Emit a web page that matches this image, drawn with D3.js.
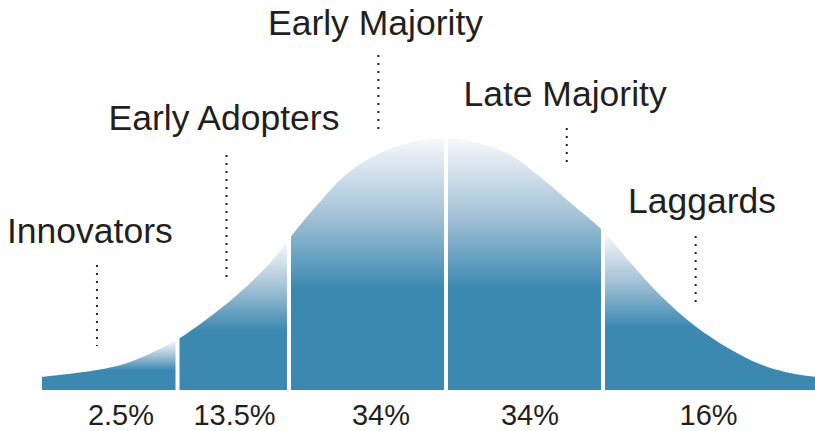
<!DOCTYPE html>
<html>
<head>
<meta charset="utf-8">
<script src="https://cdn.jsdelivr.net/npm/d3@7"></script>
<style>
  html, body { margin: 0; padding: 0; background: #ffffff; }
  svg { display: block; }
  text { font-family: "Liberation Sans", Arial, Helvetica, sans-serif; fill: #231f20; }
</style>
</head>
<body>
<svg id="chart" width="815" height="431"></svg>
<script>
// ---- data ----
const categories = ["Innovators", "Early Adopters", "Early Majority", "Late Majority", "Laggards"];
const shares = [2.5, 13.5, 34, 34, 16];
// segment boundaries along the adoption axis (standard deviations from the mean)
const boundaries = [-1.71, -1.0, 0, 1.0];
// bell curve samples: position (sd units) and relative height (peak = 1)
const curveX = [-2.573, -2.223, -2.013, -1.739, -1.548, -1.331, -1.121, -1.0, -0.847, -0.631, -0.420, -0.210, 0,
                0.172, 0.389, 0.599, 0.809, 1.0, 1.159, 1.376, 1.586, 1.796, 2.013, 2.223, 2.350];
const curveY = [0.052, 0.079, 0.111, 0.190, 0.270, 0.377, 0.504, 0.599, 0.715, 0.858, 0.940, 0.984, 1.0,
                0.984, 0.940, 0.845, 0.734, 0.631, 0.516, 0.369, 0.254, 0.167, 0.099, 0.063, 0.052];
// annotation anchors (sd units)
const labelX   = [-2.268, -1.414, -0.449, 0.758, 1.631];
const leaderX  = [-2.223, -1.398, -0.431, 0.769, 1.590];
const shareX   = [-2.070, -1.347, -0.414, 0.535, 1.672];

// ---- layout ----
const layout = {
  xRange: [42, 815], baseY: 390, peakY: 138, gap: 4,
  labelBaseline: [243, 130, 35, 106, 213],
  leaderTop: [265, 155, 55, 128, 236],
  leaderBottom: [346, 277, 129, 162, 308],
  shareBaseline: 425
};

const svg = d3.select("#chart");
const x = d3.scaleLinear().domain([curveX[0], curveX[curveX.length - 1]]).range(layout.xRange);
const y = d3.scaleLinear().domain([0, 1]).range([layout.baseY, layout.peakY]);

const pts = curveX.map((v, i) => [v, curveY[i]]);
const curveType = d3.curveCatmullRom.alpha(0.5);
const area = d3.area()
  .x(d => x(d[0]))
  .y0(layout.baseY)
  .y1(d => y(d[1]))
  .curve(curveType);
const lineGen = d3.line().x(d => x(d[0])).y(d => y(d[1])).curve(curveType);

const defs = svg.append("defs");

// hidden path for measuring the curve
const probe = svg.append("path").attr("d", lineGen(pts)).attr("fill", "none").attr("stroke", "none");
const probeNode = probe.node();
const total = probeNode.getTotalLength();
const samples = [];
for (let l = 0; l <= total; l += 0.5) samples.push(probeNode.getPointAtLength(l));

const edges = [curveX[0], ...boundaries, curveX[curveX.length - 1]];
const segs = categories.map((c, i) => {
  let x0 = x(edges[i]), x1 = x(edges[i + 1]);
  if (i > 0) x0 += layout.gap / 2;
  if (i < categories.length - 1) x1 -= layout.gap / 2;
  let top = layout.baseY;
  samples.forEach(p => { if (p.x >= x0 && p.x <= x1 && p.y < top) top = p.y; });
  return { c, i, x0, x1, top };
});

segs.forEach(s => {
  const g = defs.append("linearGradient")
    .attr("id", "grad" + s.i)
    .attr("gradientUnits", "userSpaceOnUse")
    .attr("x1", 0).attr("x2", 0)
    .attr("y1", s.top).attr("y2", layout.baseY);
  g.append("stop").attr("offset", 0).attr("stop-color", "#f7f9fc");
  g.append("stop").attr("offset", 0.3).attr("stop-color", "#a6c3d8");
  g.append("stop").attr("offset", 0.6).attr("stop-color", "#3b89b0");
  g.append("stop").attr("offset", 1).attr("stop-color", "#3b89b0");
  defs.append("clipPath").attr("id", "clip" + s.i)
    .append("rect")
    .attr("x", s.x0).attr("y", 0)
    .attr("width", s.x1 - s.x0).attr("height", layout.baseY + 1);
});

svg.append("g").selectAll("path")
  .data(segs)
  .join("path")
  .attr("d", area(pts))
  .attr("clip-path", d => `url(#clip${d.i})`)
  .attr("fill", d => `url(#grad${d.i})`);

// leaders
svg.append("g").selectAll("line")
  .data(leaderX)
  .join("line")
  .attr("x1", d => x(d)).attr("x2", d => x(d))
  .attr("y1", (d, i) => layout.leaderTop[i])
  .attr("y2", (d, i) => layout.leaderBottom[i])
  .attr("stroke", "#222")
  .attr("stroke-width", 2)
  .attr("stroke-dasharray", "2 6");

// category labels
svg.append("g").selectAll("text")
  .data(categories)
  .join("text")
  .attr("x", (d, i) => x(labelX[i]))
  .attr("y", (d, i) => layout.labelBaseline[i])
  .attr("text-anchor", "middle")
  .style("font-size", "35.5px")
  .text(d => d);

// share labels
const fmt = v => (Number.isInteger(v) ? d3.format("d")(v) : d3.format(".1f")(v)) + "%";
svg.append("g").selectAll("text")
  .data(shares)
  .join("text")
  .attr("x", (d, i) => x(shareX[i]))
  .attr("y", layout.shareBaseline)
  .attr("text-anchor", "middle")
  .style("font-size", "29px")
  .text(d => fmt(d));
</script>
</body>
</html>
